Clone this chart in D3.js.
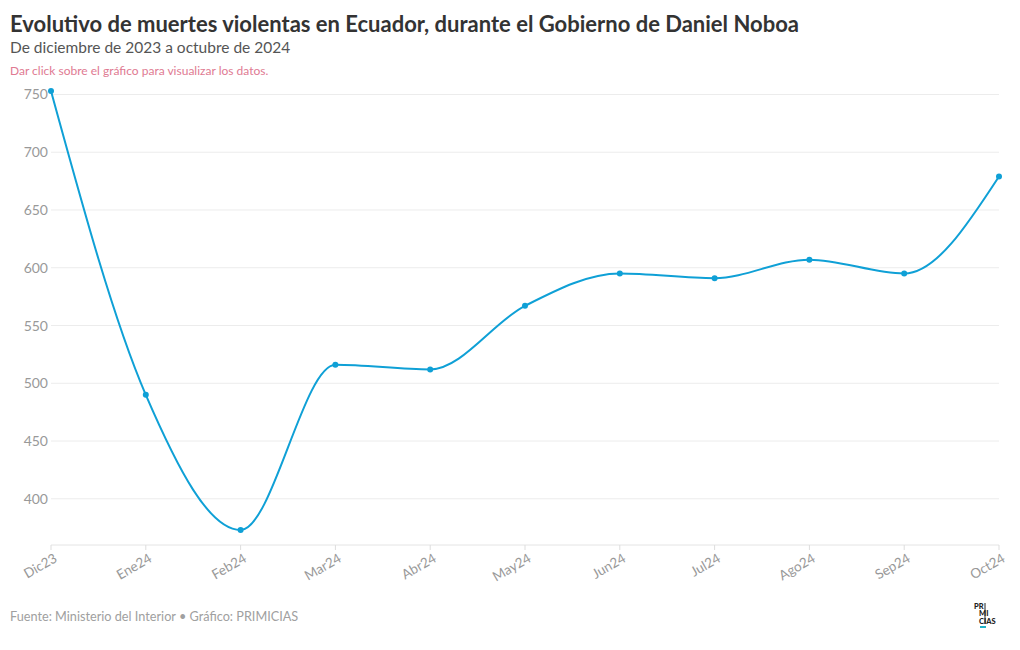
<!DOCTYPE html>
<html>
<head>
<meta charset="utf-8">
<script src="https://cdn.jsdelivr.net/npm/d3@7"></script>
<style>
  body { margin: 0; background: #fff; font-family: Lato, "Noto Sans", sans-serif; }
  svg text { font-family: Lato, "Noto Sans", sans-serif; }
</style>
</head>
<body>
<svg id="chart" width="1020" height="650"></svg>
<script>
// data
const months = ["Dic23", "Ene24", "Feb24", "Mar24", "Abr24", "May24", "Jun24", "Jul24", "Ago24", "Sep24", "Oct24"];
const deaths = [753, 490, 373, 516, 512, 567, 595, 591, 607, 595, 679];
const yTicks = [400, 450, 500, 550, 600, 650, 700, 750];

const svg = d3.select("#chart");
const margin = { top: 91, right: 21, bottom: 105, left: 51 };
const width = 1020 - margin.left - margin.right;
const height = 650 - margin.top - margin.bottom;

// header
svg.append("text")
  .attr("x", 10).attr("y", 32)
  .attr("font-size", 22).attr("font-weight", 700).attr("fill", "#333")
  .text("Evolutivo de muertes violentas en Ecuador, durante el Gobierno de Daniel Noboa");
svg.append("text")
  .attr("x", 10).attr("y", 53)
  .attr("font-size", 15.5).attr("fill", "#555")
  .text("De diciembre de 2023 a octubre de 2024");
svg.append("text")
  .attr("x", 10).attr("y", 75)
  .attr("font-size", 12).attr("fill", "#e07a92")
  .text("Dar click sobre el gráfico para visualizar los datos.");

const g = svg.append("g").attr("transform", `translate(${margin.left},${margin.top})`);

const x = d3.scalePoint().domain(months).range([0, width]);
const y = d3.scaleLinear().domain([360, 753]).range([height, 0]);

// grid lines + y labels
g.selectAll(".grid").data(yTicks).enter().append("line")
  .attr("x1", 0).attr("x2", width)
  .attr("y1", d => y(d)).attr("y2", d => y(d))
  .attr("stroke", "#ececec");
g.selectAll(".ylab").data(yTicks).enter().append("text")
  .attr("x", -3).attr("y", d => y(d) + 5)
  .attr("text-anchor", "end").attr("font-size", 14).attr("fill", "#999")
  .text(d => d);

// baseline and x axis
g.append("line")
  .attr("x1", 0).attr("x2", width).attr("y1", height).attr("y2", height)
  .attr("stroke", "#e4e4e4");
g.selectAll(".tick").data(months).enter().append("line")
  .attr("x1", d => x(d)).attr("x2", d => x(d))
  .attr("y1", height).attr("y2", height + 5)
  .attr("stroke", "#ddd");
g.selectAll(".xlab").data(months).enter().append("text")
  .attr("transform", d => `translate(${x(d) + 7},${height + 16}) rotate(-30)`)
  .attr("text-anchor", "end").attr("font-size", 13.5).attr("fill", "#999")
  .text(d => d);

// line
const line = d3.line()
  .x((d, i) => x(months[i]))
  .y(d => y(d))
  .curve(d3.curveMonotoneX);

g.append("path")
  .datum(deaths)
  .attr("d", line)
  .attr("fill", "none")
  .attr("stroke", "#0fa0d6")
  .attr("stroke-width", 2);

g.selectAll(".dot").data(deaths).enter().append("circle")
  .attr("cx", (d, i) => x(months[i]))
  .attr("cy", d => y(d))
  .attr("r", 3)
  .attr("fill", "#0fa0d6");

// footer
svg.append("text")
  .attr("x", 10).attr("y", 621)
  .attr("font-size", 12.7).attr("fill", "#a0a0a0")
  .text("Fuente: Ministerio del Interior • Gráfico: PRIMICIAS");

const logo = svg.append("g").attr("transform", "translate(974,600)")
  .attr("font-size", 7.5).attr("font-weight", 900).attr("fill", "#222");
logo.append("text").attr("x", 0).attr("y", 9).text("PR");
logo.append("text").attr("x", 5).attr("y", 16).text("MI");
logo.append("text").attr("x", 5).attr("y", 24).text("CIAS");
logo.append("line").attr("x1", 11).attr("x2", 11).attr("y1", 3).attr("y2", 24)
  .attr("stroke", "#222").attr("stroke-width", 1);
logo.append("rect").attr("x", 6).attr("y", 26).attr("width", 6).attr("height", 2).attr("fill", "#20b2c8");
</script>
</body>
</html>
